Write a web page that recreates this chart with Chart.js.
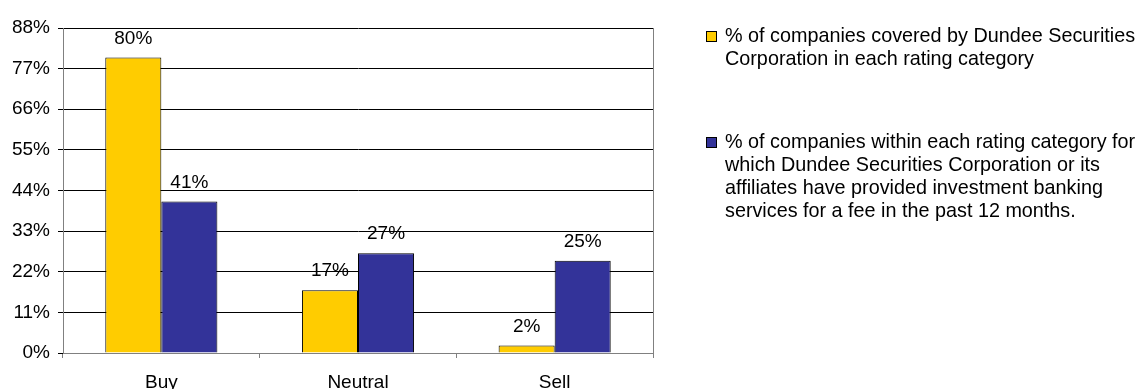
<!DOCTYPE html>
<html>
<head>
<meta charset="utf-8">
<script src="https://cdn.jsdelivr.net/npm/chart.js@4.4.1/dist/chart.umd.min.js"></script>
<style>
  html, body { margin: 0; padding: 0; background: #fff; }
  #wrap { position: relative; width: 1139px; height: 389px; }
  #legende { position: absolute; left: 706px; top: 24px; font-family: "Liberation Sans", Arial, sans-serif; font-size: 19.8px; line-height: 23.3px; color: #000; }
  .item { position: relative; padding-left: 19px; margin-bottom: 59px; white-space: nowrap; }
  .carre { position: absolute; left: 0; top: 7px; width: 9px; height: 9px; border: 1px solid #000; }
</style>
</head>
<body>
<div id="wrap">
  <canvas id="monGraphique" width="1139" height="389"></canvas>
  <div id="legende"></div>
</div>
<script>
const categories = ['Buy', 'Neutral', 'Sell'];
const couverture = [80, 17, 2];
const servicesBancaires = [41, 27, 25];
const etiquettesSeries = [
    ['% of companies covered by Dundee Securities', 'Corporation in each rating category'],
    ['% of companies within each rating category for', 'which Dundee Securities Corporation or its', 'affiliates have provided investment banking', 'services for a fee in the past 12 months.']
];
const couleurs = ['#FFCC00', '#333399'];

const police = { family: '"Liberation Sans", Arial, sans-serif', size: 19 };

// etiquettes au-dessus des barres
const etiquettesBarres = {
    id: 'etiquettesBarres',
    afterDatasetsDraw(chart) {
        const ctx = chart.ctx;
        ctx.save();
        ctx.font = '19px "Liberation Sans", Arial, sans-serif';
        ctx.fillStyle = '#000';
        ctx.textAlign = 'center';
        ctx.textBaseline = 'alphabetic';
        chart.data.datasets.forEach((ds, i) => {
            chart.getDatasetMeta(i).data.forEach((barre, j) => {
                ctx.fillText(ds.data[j] + '%', barre.x, barre.y - 14);
            });
        });
        ctx.restore();
    }
};

// bord droit gris de la zone de tracé
const bordZone = {
    id: 'bordZone',
    beforeDatasetsDraw(chart) {
        const a = chart.chartArea;
        const ctx = chart.ctx;
        ctx.save();
        ctx.strokeStyle = '#808080';
        ctx.lineWidth = 1;
        ctx.beginPath();
        ctx.moveTo(Math.round(a.right) + 0.5, a.top);
        ctx.lineTo(Math.round(a.right) + 0.5, a.bottom);
        ctx.stroke();
        ctx.restore();
    }
};

document.addEventListener("DOMContentLoaded", function() {
    const ctx = document.getElementById('monGraphique').getContext('2d');

    const data = {
        labels: categories,
        datasets: [{
            label: etiquettesSeries[0],
            data: couverture,
            backgroundColor: couleurs[0],
            borderColor: '#000',
            borderWidth: 1
        }, {
            label: etiquettesSeries[1],
            data: servicesBancaires,
            backgroundColor: couleurs[1],
            borderColor: '#000',
            borderWidth: 1
        }]
    };

    const config = {
        type: 'bar',
        data: data,
        plugins: [bordZone, etiquettesBarres],
        options: {
            responsive: false,
            animation: false,
            events: [],
            layout: { padding: { top: 28, right: 486, left: 0, bottom: 0 } },
            datasets: { bar: { categoryPercentage: 0.57, barPercentage: 1 } },
            plugins: { legend: { display: false }, tooltip: { enabled: false } },
            scales: {
                x: {
                    grid: { offset: true, drawOnChartArea: false, drawTicks: true, tickLength: 5, color: '#808080' },
                    border: { color: '#808080' },
                    ticks: { color: '#000', font: police, padding: 13 },
                    afterFit(scale) { scale.height = 36; }
                },
                y: {
                    min: 0,
                    max: 88,
                    grid: { color: '#000', tickLength: 5, drawTicks: true },
                    border: { color: '#808080' },
                    ticks: { stepSize: 11, color: '#000', font: police, padding: 8, callback: v => v + '%' },
                    afterFit(scale) { scale.width = 63; }
                }
            }
        }
    };

    const monGraphique = new Chart(ctx, config);

    const legende = document.getElementById('legende');
    monGraphique.data.datasets.forEach(ds => {
        const item = document.createElement('div');
        item.className = 'item';
        const carre = document.createElement('span');
        carre.className = 'carre';
        carre.style.background = ds.backgroundColor;
        item.appendChild(carre);
        ds.label.forEach((ligne, k) => {
            if (k > 0) item.appendChild(document.createElement('br'));
            item.appendChild(document.createTextNode(ligne));
        });
        legende.appendChild(item);
    });
});
</script>
</body>
</html>
